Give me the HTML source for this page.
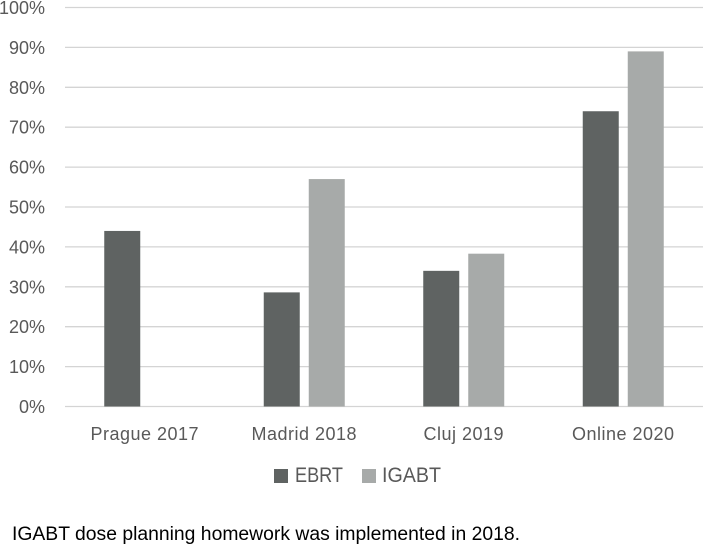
<!DOCTYPE html>
<html lang="en">
<head>
<meta charset="utf-8">
<title>IGABT and EBRT homework chart</title>
<style>
  html, body { margin: 0; padding: 0; background: #fff; }
  body { width: 703px; height: 544px; overflow: hidden; }
  svg { display: block; font-family: "Liberation Sans", sans-serif; }
</style>
</head>
<body>
<svg id="chart" width="703" height="544" viewBox="0 0 703 544" xmlns="http://www.w3.org/2000/svg">
  <g id="grid"></g>
  <g id="bars"></g>
  <g id="yticks"></g>
  <g id="xticks"></g>
  <g>
    <rect x="274" y="469" width="14" height="14" fill="#5f6362"></rect>
    <text x="295" y="482" font-size="21" fill="#595959" textLength="48" lengthAdjust="spacingAndGlyphs">EBRT</text>
    <rect x="362" y="469" width="14" height="14" fill="#a7aaa9"></rect>
    <text x="382" y="482" font-size="21" fill="#595959" textLength="59" lengthAdjust="spacingAndGlyphs">IGABT</text>
  </g>
  <text x="12" y="540" font-size="19" fill="#000" textLength="508" lengthAdjust="spacingAndGlyphs">IGABT dose planning homework was implemented in 2018.</text>
</svg>
<script>
const categories = ["Prague 2017", "Madrid 2018", "Cluj 2019", "Online 2020"];
const ebrtValues = [44, 28.6, 34, 74];
const igabtValues = [null, 57, 38.3, 89];
const yTickValues = [0, 10, 20, 30, 40, 50, 60, 70, 80, 90, 100];
const yTickLabels = ["0%", "10%", "20%", "30%", "40%", "50%", "60%", "70%", "80%", "90%", "100%"];

const NS = "http://www.w3.org/2000/svg";
const plotLeft = 65, plotRight = 703, plotBottom = 406.5, plotTop = 7.5;
const barWidth = 36, barGap = 9;

function yScale(v) { return plotBottom - (v / 100) * (plotBottom - plotTop); }
function xCenter(i) { return plotLeft + (i + 0.5) * (plotRight - plotLeft) / categories.length; }

const grid = document.getElementById("grid");
const bars = document.getElementById("bars");
const yticks = document.getElementById("yticks");
const xticks = document.getElementById("xticks");

yTickValues.forEach(function (v, i) {
  const line = document.createElementNS(NS, "line");
  
  
  line.setAttribute("x1", plotLeft);
  line.setAttribute("x2", plotRight);
  line.setAttribute("y1", yScale(v));
  line.setAttribute("y2", yScale(v));
  line.setAttribute("stroke", "#d4d4d4");
  line.setAttribute("stroke-width", "1.3");
  grid.appendChild(line);

  const label = document.createElementNS(NS, "text");
  
  
  label.setAttribute("x", 45);
  label.setAttribute("y", yScale(v) + 6.5);
  label.setAttribute("text-anchor", "end");
  label.setAttribute("font-size", "18");
  label.setAttribute("fill", "#595959");
  label.textContent = yTickLabels[i];
  yticks.appendChild(label);
});

function addBar(value, x, fill, name) {
  if (value === null) return;
  const rect = document.createElementNS(NS, "rect");
  
  
  rect.setAttribute("x", x);
  rect.setAttribute("y", yScale(value));
  rect.setAttribute("width", barWidth);
  rect.setAttribute("height", yScale(0) - yScale(value));
  rect.setAttribute("fill", fill);
  bars.appendChild(rect);
}

categories.forEach(function (cat, i) {
  const c = xCenter(i);
  addBar(ebrtValues[i], c - barGap / 2 - barWidth, "#5f6362", "bar-ebrt");
  addBar(igabtValues[i], c + barGap / 2, "#a7aaa9", "bar-igabt");

  const label = document.createElementNS(NS, "text");
  
  
  label.setAttribute("x", c);
  label.setAttribute("y", 440);
  label.setAttribute("text-anchor", "middle");
  label.setAttribute("font-size", "18");
  label.setAttribute("letter-spacing", "0.5");
  label.setAttribute("fill", "#595959");
  label.textContent = cat;
  xticks.appendChild(label);
});
</script>
</body>
</html>
